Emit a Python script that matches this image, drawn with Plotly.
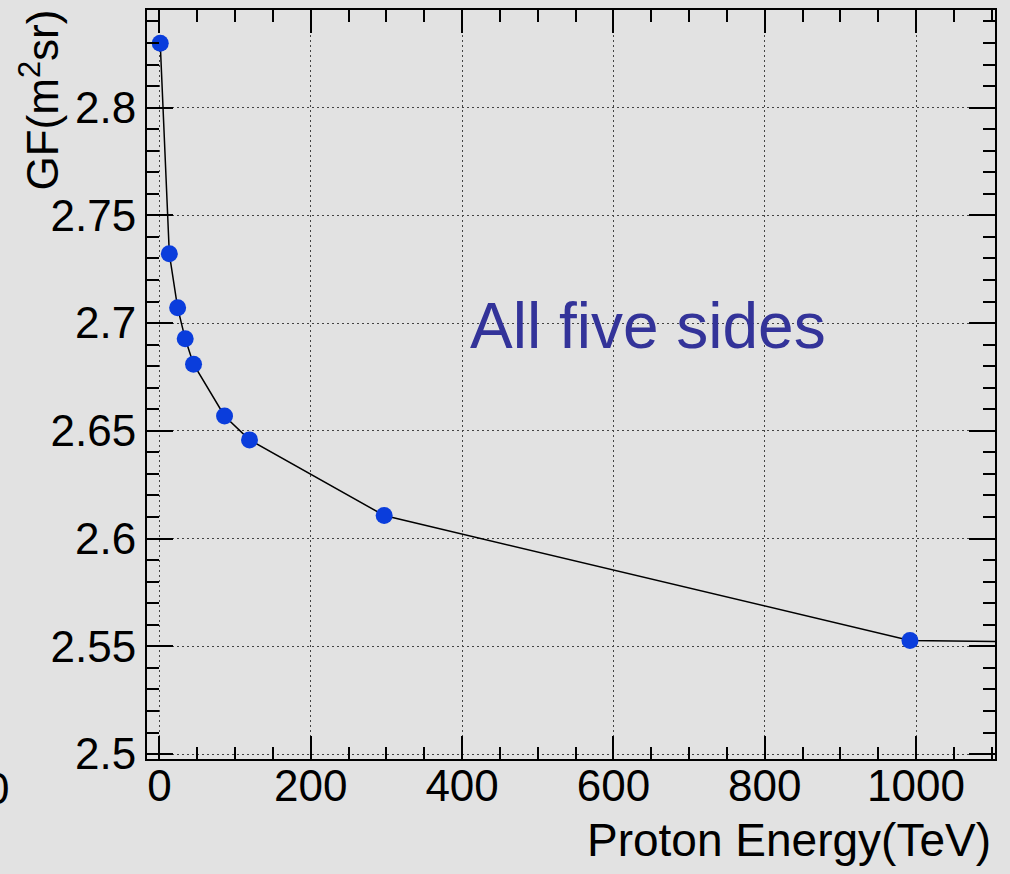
import plotly.graph_objects as go

# Data
energy_tev = [1, 13, 24, 34, 45, 86, 119, 297, 992, 1200]
gf_m2sr = [2.8299, 2.7322, 2.7071, 2.6927, 2.6809, 2.6569, 2.6458, 2.6107, 2.5527, 2.5518]
marker_n = 9  # points drawn with markers (last point lies outside the frame)

x_ticks = [0, 200, 400, 600, 800, 1000]
x_ticktext = ["0", "200", "400", "600", "800", "1000"]
y_ticks = [2.5, 2.55, 2.6, 2.65, 2.7, 2.75, 2.8]
y_ticktext = ["2.5", "2.55", "2.6", "2.65", "2.7", "2.75", "2.8"]

W, H = 1010, 874
L, R, T, B = 147, 15, 10, 115
pw, ph = W - L - R, H - T - B
def px_x(p): return (p - L) / pw
def px_y(p): return 1 - (p - T) / ph

FONT = "Liberation Sans, Arial, Helvetica, sans-serif"
BG = "#e2e2e2"

fig = go.Figure()
fig.add_trace(go.Scatter(x=energy_tev, y=gf_m2sr, mode="lines",
                         line=dict(color="black", width=1.5), showlegend=False,
                         hoverinfo="skip"))
fig.add_trace(go.Scatter(x=energy_tev[:marker_n], y=gf_m2sr[:marker_n], mode="markers",
                         marker=dict(color="#0a3ddc", size=17, line=dict(width=0)),
                         showlegend=False))

axis_common = dict(showline=True, linecolor="black", linewidth=2, mirror="ticks",
                   ticks="inside", tickcolor="black", tickwidth=2,
                   showgrid=True, gridcolor="#444444", gridwidth=1, griddash="2px,3px",
                   zeroline=False, tickfont=dict(family=FONT, size=44, color="black"))

fig.update_xaxes(range=[-16.5, 1104.4], tickvals=x_ticks, ticktext=x_ticktext,
                 ticklen=23, ticklabelstandoff=-13,
                 minor=dict(dtick=50, tick0=0, ticks="inside", ticklen=12,
                            tickcolor="black", tickwidth=2, showgrid=False),
                 **axis_common)
fig.update_yaxes(range=[2.4977, 2.8453], tickvals=y_ticks, ticktext=y_ticktext,
                 ticklen=26,
                 minor=dict(dtick=0.01, tick0=2.5, ticks="inside", ticklen=12,
                            tickcolor="black", tickwidth=2, showgrid=False),
                 **axis_common)

fig.add_annotation(text="Proton Energy(TeV)", xref="paper", yref="paper",
                   x=px_x(993), y=px_y(840), xanchor="right", yanchor="middle",
                   showarrow=False, font=dict(family=FONT, size=46, color="black"))
fig.add_annotation(text="GF(m<sup>2</sup>sr)", xref="paper", yref="paper", textangle=-90,
                   x=px_x(39), y=px_y(8), xanchor="center", yanchor="top",
                   showarrow=False, font=dict(family=FONT, size=44, color="black"))
fig.add_annotation(text="All five sides", xref="paper", yref="paper",
                   x=px_x(468), y=px_y(326), xanchor="left", yanchor="middle",
                   showarrow=False, font=dict(family=FONT, size=64, color="#333399"))
fig.add_annotation(text="0", xref="paper", yref="paper",
                   x=px_x(-3), y=px_y(788), xanchor="center", yanchor="middle",
                   showarrow=False, font=dict(family=FONT, size=44, color="black"))

fig.update_layout(width=W, height=H, margin=dict(l=L, r=R, t=T, b=B, autoexpand=False),
                  paper_bgcolor=BG, plot_bgcolor=BG, showlegend=False)

fig.write_html("out.html")
